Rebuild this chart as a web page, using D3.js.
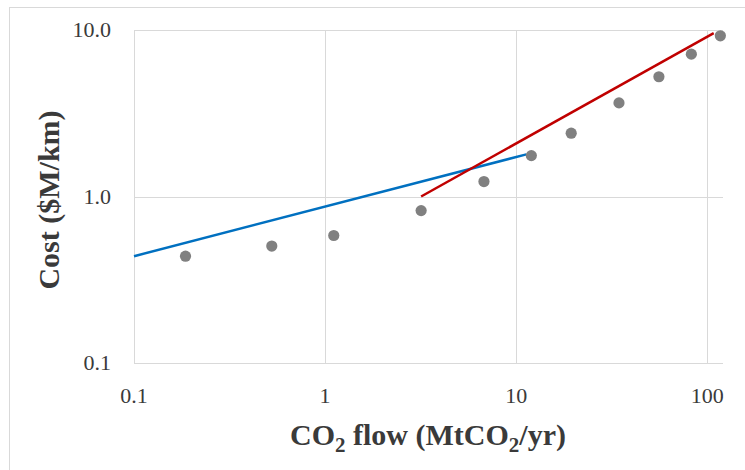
<!DOCTYPE html>
<html>
<head>
<meta charset="utf-8">
<script src="https://cdn.jsdelivr.net/npm/d3@7"></script>
<style>
  html, body { margin: 0; padding: 0; background: #fff; }
  svg { display: block; }
</style>
</head>
<body>
<svg id="chart" width="745" height="470"></svg>
<script>
// ---- data ----
const flows = [0.186, 0.526, 1.11, 3.18, 6.78, 12.0, 19.4, 34.5, 55.8, 82.5, 117];
const costs = [0.438, 0.504, 0.583, 0.823, 1.23, 1.76, 2.40, 3.65, 5.24, 7.16, 9.23];
const blueFit = [[0.1, 0.438], [11.3, 1.79]];
const redFit = [[3.18, 1.0], [108, 9.57]];
const xTicks = [0.1, 1, 10, 100];
const xTickLabels = ["0.1", "1", "10", "100"];
const yTicks = [0.1, 1, 10];
const yTickLabels = ["0.1", "1.0", "10.0"];

// ---- layout ----
const svg = d3.select("#chart");
const plotLeft = 134, plotRight = 723, plotTop = 30, plotBottom = 363;

const x = d3.scaleLog().domain([0.1, 120.8]).range([plotLeft, plotRight]);
const y = d3.scaleLog().domain([0.1, 10]).range([plotBottom, plotTop]);

// outer border
svg.append("rect")
  .attr("x", 9.5).attr("y", 7.5)
  .attr("width", 760).attr("height", 500)
  .attr("fill", "none").attr("stroke", "#d9d9d9").attr("stroke-width", 1);

const grid = svg.append("g");
// horizontal gridlines
grid.selectAll("line.h").data(yTicks).enter().append("line")
  .attr("x1", plotLeft).attr("x2", plotRight)
  .attr("y1", d => Math.round(y(d)) + 0.5).attr("y2", d => Math.round(y(d)) + 0.5)
  .attr("stroke", "#d9d9d9").attr("stroke-width", 1);
// vertical gridlines
grid.selectAll("line.v").data(xTicks).enter().append("line")
  .attr("y1", plotTop).attr("y2", plotBottom)
  .attr("x1", d => Math.round(x(d)) + 0.5).attr("x2", d => Math.round(x(d)) + 0.5)
  .attr("stroke", "#d9d9d9").attr("stroke-width", 1);

const font = "'Liberation Serif', 'Times New Roman', serif";
const textColor = "#3a3a3a";

// y tick labels
svg.append("g").selectAll("text").data(yTicks).enter().append("text")
  .attr("x", 111).attr("y", d => y(d))
  .attr("dy", "0.33em")
  .attr("text-anchor", "end")
  .attr("font-family", font).attr("font-size", 22)
  .attr("fill", textColor)
  .text((d, i) => yTickLabels[i]);

// x tick labels
svg.append("g").selectAll("text").data(xTicks).enter().append("text")
  .attr("x", d => x(d)).attr("y", 403)
  .attr("text-anchor", "middle")
  .attr("font-family", font).attr("font-size", 22)
  .attr("fill", textColor)
  .text((d, i) => xTickLabels[i]);

// fit lines
const line = d3.line().x(d => x(d[0])).y(d => y(d[1]));
svg.append("path").datum(blueFit)
  .attr("d", line).attr("fill", "none")
  .attr("stroke", "#0070C0").attr("stroke-width", 2.5);
svg.append("path").datum(redFit)
  .attr("d", line).attr("fill", "none")
  .attr("stroke", "#C00000").attr("stroke-width", 2.5);

// points
svg.append("g").selectAll("circle").data(flows).enter().append("circle")
  .attr("cx", d => x(d)).attr("cy", (d, i) => y(costs[i]))
  .attr("r", 5.6).attr("fill", "#808080");

// axis titles
const xt = svg.append("text")
  .attr("x", 428).attr("y", 445)
  .attr("text-anchor", "middle")
  .attr("font-family", font).attr("font-size", 30).attr("font-weight", "bold")
  .attr("fill", textColor);
xt.append("tspan").text("CO");
xt.append("tspan").attr("font-size", 21).attr("dy", 7).text("2");
xt.append("tspan").attr("dy", -7).text(" flow (MtCO");
xt.append("tspan").attr("font-size", 21).attr("dy", 7).text("2");
xt.append("tspan").attr("dy", -7).text("/yr)");

svg.append("text")
  .attr("transform", "translate(59,200) rotate(-90)")
  .attr("text-anchor", "middle")
  .attr("font-family", font).attr("font-size", 30).attr("font-weight", "bold")
  .attr("fill", textColor)
  .text("Cost ($M/km)");
</script>
</body>
</html>
